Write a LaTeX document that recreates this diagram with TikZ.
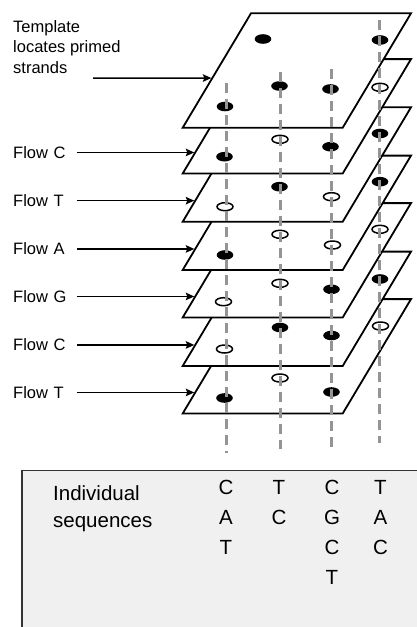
\documentclass[tikz,border=0pt]{standalone}
\usepackage{fontspec}
\setmainfont{Liberation Sans}
\usetikzlibrary{arrows.meta}
\tikzset{plate/.style={draw=black,fill=white,line width=1.8pt,line join=miter}}
\tikzset{fullspot/.style={fill=black,x radius=8.3pt,y radius=4.8pt}}
\tikzset{openspot/.style={draw=black,fill=white,line width=1.5pt,x radius=8pt,y radius=4pt}}
\tikzset{readline/.style={draw=black!42,line width=3pt,dash pattern=on 10pt off 6pt}}
\tikzset{flowarrow/.style={line width=1.5pt,shorten >=1pt,-{Stealth[length=8.5pt,width=7.5pt,inset=1.5pt]}}}
\tikzset{flowlabel/.style={anchor=west,inner sep=0pt,text width=64pt,font=\fontsize{16.5}{20.5}\selectfont}}
\tikzset{seqbox/.style={draw=black!80,fill=black!6,line width=1.5pt}}
\tikzset{seqtext/.style={inner sep=0pt,align=center,font=\fontsize{20.5}{30}\selectfont}}

\begin{document}
\begin{tikzpicture}[x=1pt,y=-1pt]
      \pgfmathsetmacro{\platew}{160}
      \pgfmathsetmacro{\plateh}{114.4}
      \pgfmathsetmacro{\plates}{68.3}
      \useasboundingbox (0,0) rectangle (417,627);
      \clip (0,0) rectangle (417,627);

      \filldraw[seqbox] (22,470.7) rectangle (440,650);

      % flows, drawn from the bottom plate up
      \filldraw[plate] (251,299.1) -- coordinate[pos=0.816] (p7) ++(-\plates,\plateh) -- ++(\platew,0) -- ++(\plates,-\plateh) -- cycle;
      \fill[fullspot] (224.5,398) ellipse[]; \filldraw[openspot] (280,378) ellipse[]; \fill[fullspot] (331.5,392) ellipse[];

      \filldraw[plate] (251,251.6) -- coordinate[pos=0.816] (p6) ++(-\plates,\plateh) -- ++(\platew,0) -- ++(\plates,-\plateh) -- cycle;
      \filldraw[openspot] (224.5,349) ellipse[]; \fill[fullspot] (280,327.5) ellipse[]; \fill[fullspot] (331.5,335.5) ellipse[]; \filldraw[openspot] (380.5,326) ellipse[];

      \filldraw[plate] (251,203.1) -- coordinate[pos=0.816] (p5) ++(-\plates,\plateh) -- ++(\platew,0) -- ++(\plates,-\plateh) -- cycle;
      \filldraw[openspot] (223.5,301.7) ellipse[]; \filldraw[openspot] (280,283.3) ellipse[]; \fill[fullspot] (331.5,289.3) ellipse[]; \fill[fullspot] (380,279) ellipse[];

      \filldraw[plate] (251,155.6) -- coordinate[pos=0.816] (p4) ++(-\plates,\plateh) -- ++(\platew,0) -- ++(\plates,-\plateh) -- cycle;
      \fill[fullspot] (225,255) ellipse[]; \filldraw[openspot] (280,234.3) ellipse[]; \filldraw[openspot] (332.5,245) ellipse[]; \filldraw[openspot] (380,229.3) ellipse[];

      \filldraw[plate] (251,107.3) -- coordinate[pos=0.816] (p3) ++(-\plates,\plateh) -- ++(\platew,0) -- ++(\plates,-\plateh) -- cycle;
      \filldraw[openspot] (225,206.7) ellipse[]; \fill[fullspot] (279.5,186.7) ellipse[]; \filldraw[openspot] (331.5,196.7) ellipse[]; \fill[fullspot] (380,181.7) ellipse[];

      \filldraw[plate] (251,59.1) -- coordinate[pos=0.816] (p2) ++(-\plates,\plateh) -- ++(\platew,0) -- ++(\plates,-\plateh) -- cycle;
      \fill[fullspot] (224.5,156.7) ellipse[]; \filldraw[openspot] (280,139.3) ellipse[]; \fill[fullspot] (330.5,146.7) ellipse[]; \fill[fullspot] (380,133.5) ellipse[];
      \filldraw[openspot] (380,87.3) ellipse[];

      \filldraw[plate] (251,13.3) -- coordinate[pos=0.566] (p1) ++(-\plates,\plateh) -- ++(\platew,0) -- ++(\plates,-\plateh) -- cycle;
      \fill[fullspot] (225,106.5) ellipse[]; \fill[fullspot] (279.5,86) ellipse[]; \fill[fullspot] (330.5,89) ellipse[]; \fill[fullspot] (380,40) ellipse[];
      \fill[fullspot] (263,39) ellipse[];

      \draw[readline] (226,83) -- (226,453);
      \draw[readline] (280,72) -- (280,449);
      \draw[readline] (331,69) -- (331,447);
      \draw[readline] (379,20) -- (379,443);

      \coordinate (lx) at (13,0);
      \node[anchor=base west,inner sep=0pt,align=left,font=\fontsize{16.5}{20.5}\selectfont] (tmpl) at (13,73) {Template\\locates primed\\strands};
      \coordinate (tt) at (93,78);
      \draw[flowarrow] (tt) -- (p1);

      \node[flowlabel] (l2) at (p2 -| lx) {Flow C};
      \node[flowlabel] (l3) at (p3 -| lx) {Flow T};
      \node[flowlabel] (l4) at (p4 -| lx) {Flow A};
      \node[flowlabel] (l5) at (p5 -| lx) {Flow G};
      \node[flowlabel] (l6) at (p6 -| lx) {Flow C};
      \node[flowlabel] (l7) at (p7 -| lx) {Flow T};
      \draw[flowarrow] (l2) -- (p2);
      \draw[flowarrow] (l3) -- (p3);
      \draw[flowarrow] (l4) -- (p4);
      \draw[flowarrow] (l5) -- (p5);
      \draw[flowarrow] (l6) -- (p6);
      \draw[flowarrow] (l7) -- (p7);

      \node[anchor=base west,inner sep=0pt,align=left,font=\fontsize{20.5}{27}\selectfont] (indiv) at (53,527) {Individual\\sequences};
      \node[seqtext,anchor=base] (s1) at (226,554) {C\\A\\T};
      \node[seqtext,anchor=base] (s2) at (279,524) {T\\C};
      \node[seqtext,anchor=base] (s3) at (332,584) {C\\G\\C\\T};
      \node[seqtext,anchor=base] (s4) at (380.5,554) {T\\A\\C};
    \end{tikzpicture}
\end{document}
